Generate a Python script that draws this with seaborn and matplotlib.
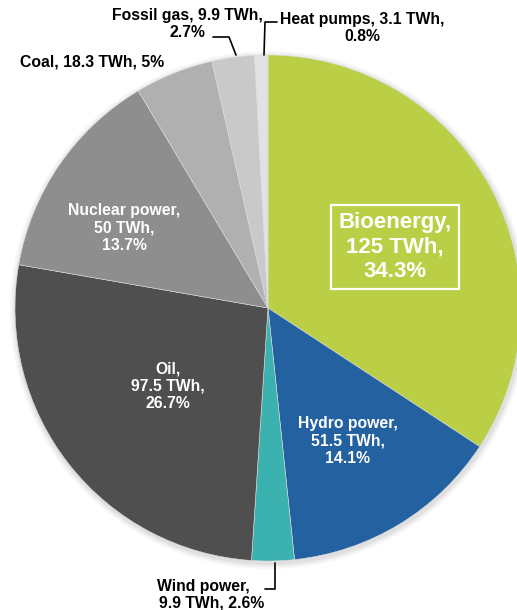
import matplotlib
matplotlib.use("Agg")
import matplotlib.pyplot as plt
import seaborn as sns

categories = ["Bioenergy", "Hydro power", "Wind power", "Oil", "Nuclear power",
              "Coal", "Fossil gas", "Heat pumps"]
twh = [125, 51.5, 9.9, 97.5, 50, 18.3, 9.9, 3.1]
shares = ["34.3%", "14.1%", "2.6%", "26.7%", "13.7%", "5%", "2.7%", "0.8%"]
colors = ["#bacf46", "#2361a0", "#3bb1b0", "#4f4f4f", "#8e8e8e",
          "#b0b0b0", "#c9c9c9", "#e2e2e2"]

sns.set_theme(style="white")
plt.rcParams['font.family'] = ['Liberation Sans', 'DejaVu Sans']

W, H = 517, 610
fig = plt.figure(figsize=(W / 100, H / 100), dpi=100)
ax = fig.add_axes([0, 0, 1, 1])

def Y(y):
    return H - y

cx, cy, r = 268, 308, 253
# faint shadow
for k, a in [(6, 0.03), (4, 0.04), (2, 0.05)]:
    ax.add_patch(plt.Circle((cx + 1, Y(cy) - 2), r + k, color="black", alpha=a, lw=0, zorder=0))

ax.pie(twh, colors=colors, startangle=90, counterclock=False,
       center=(cx, Y(cy)), radius=r, frame=True,
       wedgeprops=dict(linewidth=0.4, edgecolor="#dddddd"))
ax.set_xlim(0, W)
ax.set_ylim(0, H)
ax.set_aspect("equal")
ax.axis("off")

fs = 11.3
# Bioenergy (boxed)
ax.text(395, Y(247), f"{categories[0]},\n{twh[0]:g} TWh,\n{shares[0]}", color="white",
        fontsize=16, fontweight="bold", ha="center", va="center", linespacing=1.2,
        bbox=dict(boxstyle="square,pad=0.35", fc="none", ec="white", lw=1.6))
# Hydro
ax.text(348, Y(441), f"{categories[1]},\n{twh[1]:g} TWh,\n{shares[1]}", color="white",
        fontsize=fs, fontweight="bold", ha="center", va="center", linespacing=1.2)
# Oil
ax.text(168, Y(386), f"{categories[3]},\n{twh[3]:g} TWh,\n{shares[3]}", color="white",
        fontsize=fs, fontweight="bold", ha="center", va="center", linespacing=1.2)
# Nuclear
ax.text(124, Y(228), f"{categories[4]},\n{twh[4]:g} TWh,\n{shares[4]}", color="white",
        fontsize=fs, fontweight="bold", ha="center", va="center", linespacing=1.2)
# Coal
ax.text(20, Y(62), f"{categories[5]}, {twh[5]:g} TWh, {shares[5]}", color="black",
        fontsize=fs, fontweight="bold", ha="left", va="center")
# Fossil gas
ax.text(187, Y(24), f"{categories[6]}, {twh[6]:g} TWh,\n{shares[6]}", color="black",
        fontsize=fs, fontweight="bold", ha="center", va="center", linespacing=1.1)
ax.plot([213, 229, 236], [Y(37), Y(37), Y(55)], color="black", lw=1.2)
# Heat pumps
ax.text(362, Y(28), f"{categories[7]}, {twh[7]:g} TWh,\n{shares[7]}", color="black",
        fontsize=fs, fontweight="bold", ha="center", va="center", linespacing=1.1)
ax.plot([277, 265, 264], [Y(22), Y(22), Y(55)], color="black", lw=1.2)
# Wind
ax.text(212, Y(595), f"{categories[2]},    \n{twh[2]:g} TWh, {shares[2]}", color="black",
        fontsize=fs, fontweight="bold", ha="center", va="center", linespacing=1.1)
ax.plot([265, 275, 275], [Y(589), Y(589), Y(563)], color="black", lw=1.2)

fig.savefig("out.png", dpi=100)
